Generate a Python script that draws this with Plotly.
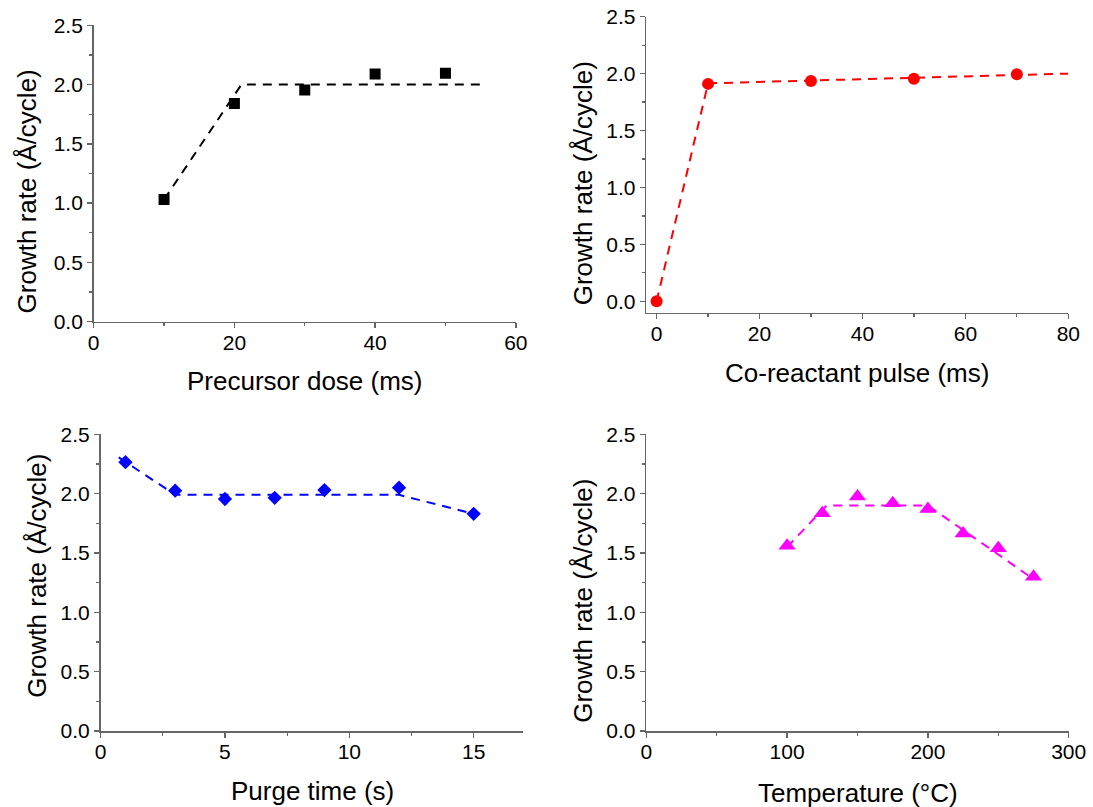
import plotly.graph_objects as go

W, H = 1093, 807
OFF = 0  # body margin removed via post_script, so the plot starts at the page corner

# ---- data ----
dose_x = [10, 20, 30, 40, 50]
dose_y = [1.03, 1.84, 1.955, 2.09, 2.095]
dose_fit_x = [10, 21, 55.5]
dose_fit_y = [1.03, 2.0, 2.0]

pulse_x = [0, 10, 30, 50, 70]
pulse_y = [0.0, 1.91, 1.935, 1.955, 1.995]
pulse_fit_x = [0, 10, 80]
pulse_fit_y = [0.0, 1.915, 2.0]

purge_x = [1, 3, 5, 7, 9, 12, 15]
purge_y = [2.265, 2.025, 1.955, 1.965, 2.03, 2.05, 1.83]
purge_fit_x = [0.73, 3, 12, 15]
purge_fit_y = [2.305, 1.99, 1.99, 1.83]

temp_x = [100, 125, 150, 175, 200, 225, 250, 275]
temp_y = [1.56, 1.835, 1.975, 1.92, 1.87, 1.665, 1.54, 1.30]
temp_fit_x = [100, 128, 200, 275]
temp_fit_y = [1.55, 1.90, 1.90, 1.28]

y_tickvals = [0.0, 0.5, 1.0, 1.5, 2.0, 2.5]
y_title = "Growth rate (Å/cycle)"
x_titles = ["Precursor dose (ms)", "Co-reactant pulse (ms)", "Purge time (s)", "Temperature (°C)"]

FONT = "Arial, 'Liberation Sans', sans-serif"
AXC = "#666666"
DASH = "9px,7px"

fig = go.Figure()

panels = [
    (dose_x, dose_y, dose_fit_x, dose_fit_y, "#000000", "square", 11),
    (pulse_x, pulse_y, pulse_fit_x, pulse_fit_y, "#FF0000", "circle", 12),
    (purge_x, purge_y, purge_fit_x, purge_fit_y, "#0000FF", "diamond", 11),
    (temp_x, temp_y, temp_fit_x, temp_fit_y, "#FF00FF", "triangle-up", 15),
]

for i, (x, y, fx, fy, col, sym, sz) in enumerate(panels):
    suf = "" if i == 0 else str(i + 1)
    fig.add_trace(go.Scatter(x=fx, y=fy, mode="lines",
                             line=dict(color=col, width=2, dash=DASH),
                             xaxis="x" + suf, yaxis="y" + suf, showlegend=False,
                             hoverinfo="skip"))
    fig.add_trace(go.Scatter(x=x, y=y, mode="markers",
                             marker=dict(color=col, symbol=sym, size=sz, line=dict(width=0)),
                             xaxis="x" + suf, yaxis="y" + suf, showlegend=False))

def px_x(p):
    return (p - OFF) / W

def px_y(p):
    return 1 - (p - OFF) / H

# pixel geometry of plot areas in the screenshot: (left, right, top, bottom)
geom = [
    (93.7, 515.8, 25.3, 321.7),
    (646.3, 1068.3, 16.7, 312.7),
    (100.6, 523.4, 434.3, 731.0),
    (646.3, 1068.7, 434.3, 731.0),
]
xranges = [[0, 60], [-2, 80], [0, 17], [0, 300]]
xdticks = [20, 20, 5, 100]
yranges = [[0, 2.5001], [-0.1, 2.5001], [0, 2.5001], [0, 2.5001]]

common = dict(
    showline=True, linecolor=AXC, linewidth=1.6, mirror=False,
    ticks="outside", ticklen=5, tickwidth=1.5, tickcolor=AXC,
    showgrid=False, zeroline=False, automargin=False, ticklabeloverflow="allow",
    tickfont=dict(family=FONT, size=21, color="#000000"),
)

layout = {}
for i in range(4):
    suf = "" if i == 0 else str(i + 1)
    l, r, t, b = geom[i]
    layout["xaxis" + suf] = dict(
        common, domain=[px_x(l), px_x(r)], range=xranges[i],
        tick0=0, dtick=xdticks[i], anchor="y" + suf, ticklabelstandoff=-4,
        minor=dict(ticks="outside", ticklen=3, tickwidth=1.2, tickcolor=AXC,
                   dtick=xdticks[i] / 2, tick0=0, showgrid=False),
    )
    layout["yaxis" + suf] = dict(
        common, domain=[px_y(b), px_y(t)], range=yranges[i],
        tickmode="array", tickvals=y_tickvals, tickformat=".1f", anchor="x" + suf,
        minor=dict(ticks="outside", ticklen=3, tickwidth=1.2, tickcolor=AXC,
                   dtick=0.25, tick0=0, showgrid=False),
    )

# axis titles as annotations at measured positions
xt_pos = [(304.7, 381), (857.3, 372.5), (312.0, 791), (857.5, 792.5)]
yt_pos = [(26.7, 191.7), (583.0, 183.3), (37.0, 575.8), (583.0, 600.8)]
annotations = []
for i in range(4):
    xx, yy = xt_pos[i]
    annotations.append(dict(text=x_titles[i], x=px_x(xx), y=px_y(yy), xref="paper", yref="paper",
                            xanchor="center", yanchor="middle", showarrow=False,
                            font=dict(family=FONT, size=26, color="#000000")))
    xx, yy = yt_pos[i]
    annotations.append(dict(text=y_title, x=px_x(xx), y=px_y(yy), xref="paper", yref="paper",
                            xanchor="center", yanchor="middle", showarrow=False, textangle=-90,
                            font=dict(family=FONT, size=26, color="#000000")))

fig.update_layout(
    template="none",
    width=W, height=H,
    margin=dict(l=0, r=0, t=0, b=0, pad=0),
    paper_bgcolor="white", plot_bgcolor="white",
    font=dict(family=FONT, color="#000000"),
    annotations=annotations,
    hovermode=False,
    **layout,
)

fig.write_html("out.html",
               config={"displayModeBar": False, "staticPlot": True},
               post_script="document.body.style.margin='0';document.body.style.overflow='hidden';")
